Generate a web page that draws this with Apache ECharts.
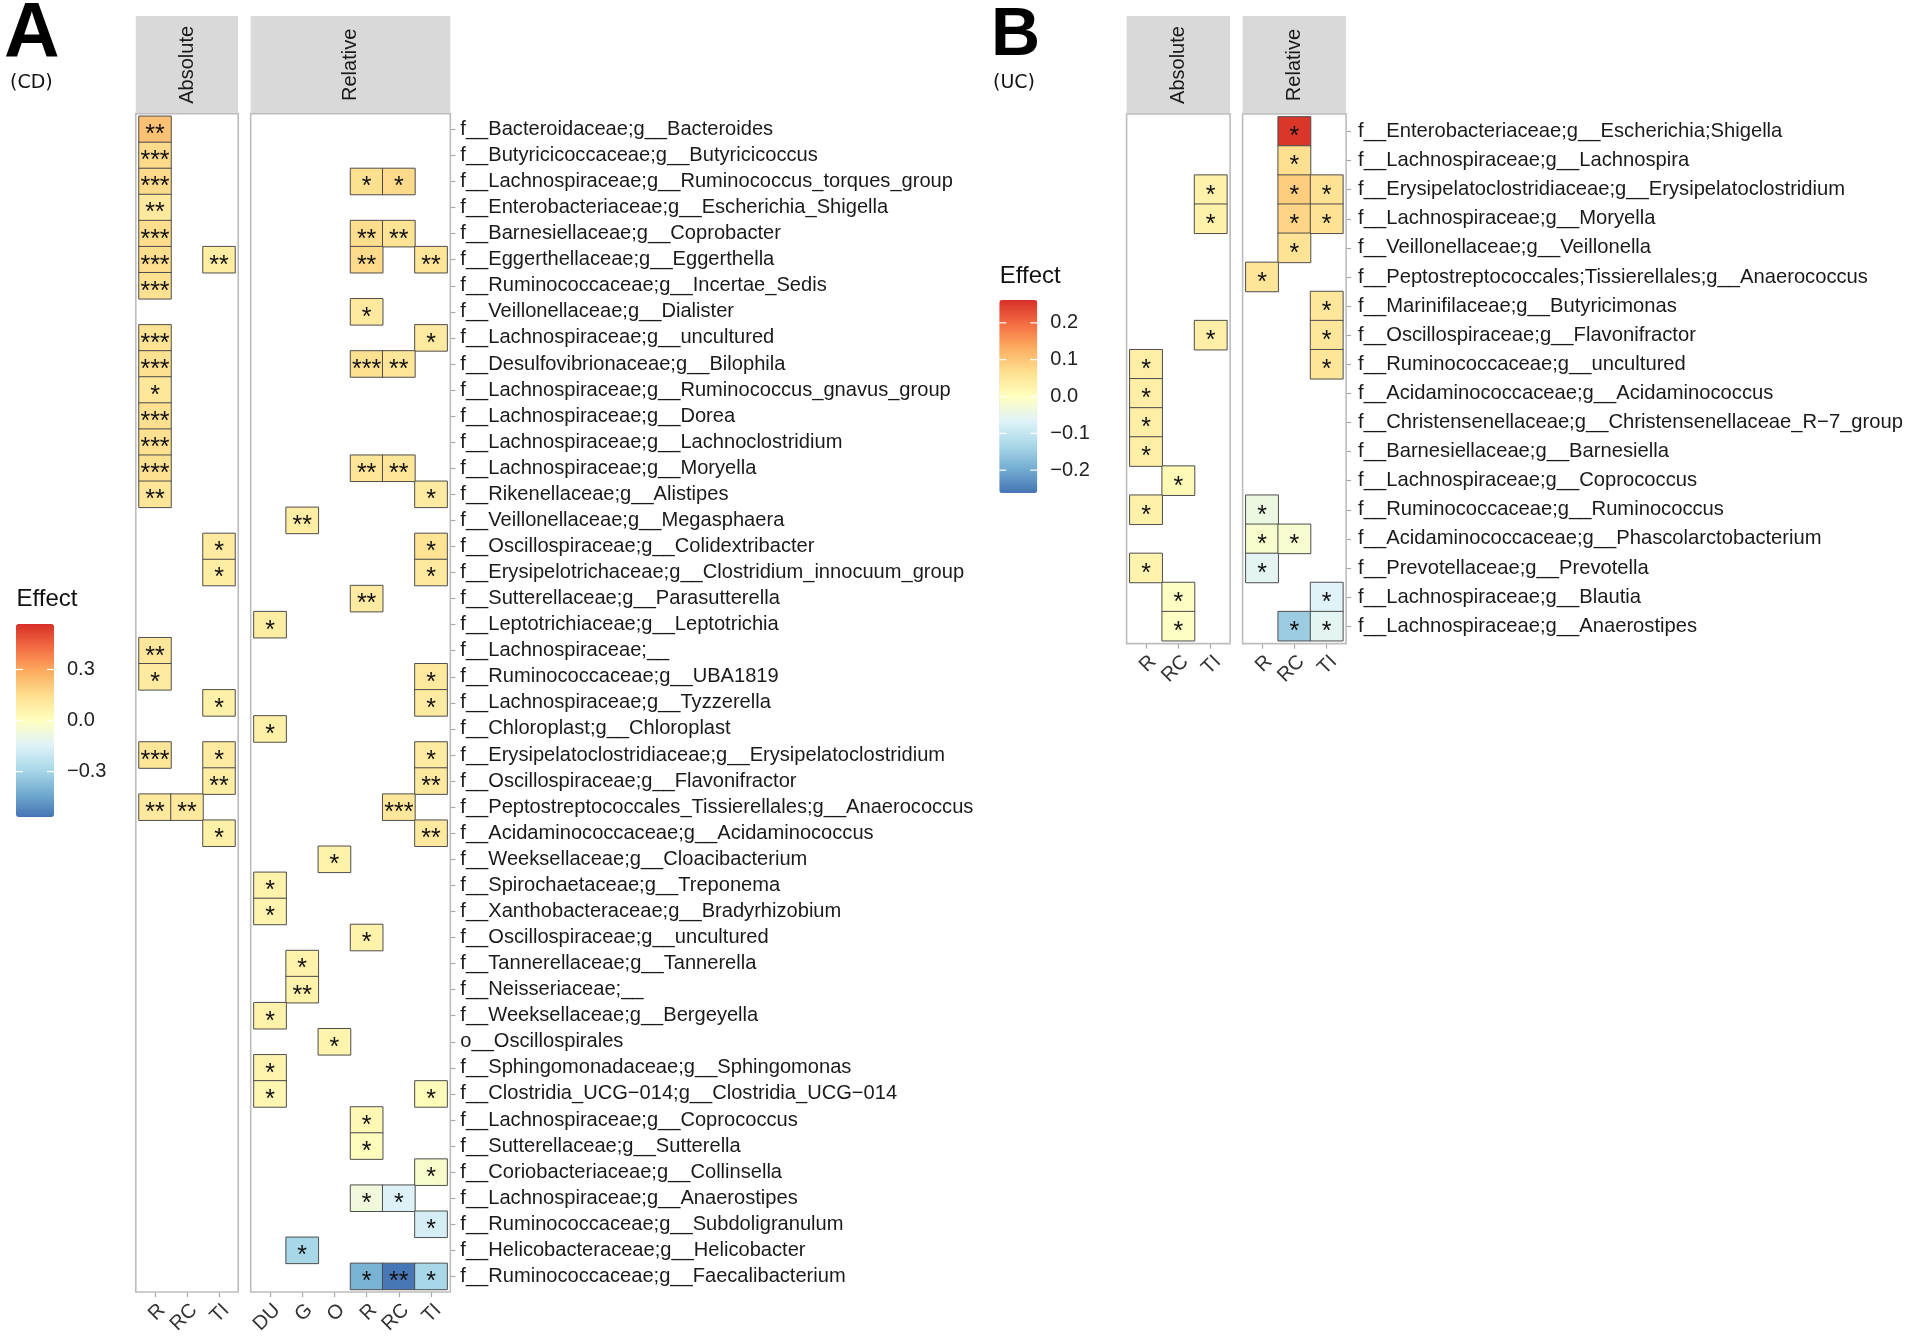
<!DOCTYPE html>
<html>
<head>
<meta charset="utf-8">
<script src="https://cdn.jsdelivr.net/npm/echarts/dist/echarts.min.js"></script>
<style>html,body{margin:0;padding:0;background:#fff}#chart{width:1907px;height:1337px}</style>
</head>
<body>
<div id="chart"></div>
<script>
// ---------------- DATA ----------------
const taxaCD = [
  'f__Bacteroidaceae;g__Bacteroides',
  'f__Butyricicoccaceae;g__Butyricicoccus',
  'f__Lachnospiraceae;g__Ruminococcus_torques_group',
  'f__Enterobacteriaceae;g__Escherichia_Shigella',
  'f__Barnesiellaceae;g__Coprobacter',
  'f__Eggerthellaceae;g__Eggerthella',
  'f__Ruminococcaceae;g__Incertae_Sedis',
  'f__Veillonellaceae;g__Dialister',
  'f__Lachnospiraceae;g__uncultured',
  'f__Desulfovibrionaceae;g__Bilophila',
  'f__Lachnospiraceae;g__Ruminococcus_gnavus_group',
  'f__Lachnospiraceae;g__Dorea',
  'f__Lachnospiraceae;g__Lachnoclostridium',
  'f__Lachnospiraceae;g__Moryella',
  'f__Rikenellaceae;g__Alistipes',
  'f__Veillonellaceae;g__Megasphaera',
  'f__Oscillospiraceae;g__Colidextribacter',
  'f__Erysipelotrichaceae;g__Clostridium_innocuum_group',
  'f__Sutterellaceae;g__Parasutterella',
  'f__Leptotrichiaceae;g__Leptotrichia',
  'f__Lachnospiraceae;__',
  'f__Ruminococcaceae;g__UBA1819',
  'f__Lachnospiraceae;g__Tyzzerella',
  'f__Chloroplast;g__Chloroplast',
  'f__Erysipelatoclostridiaceae;g__Erysipelatoclostridium',
  'f__Oscillospiraceae;g__Flavonifractor',
  'f__Peptostreptococcales_Tissierellales;g__Anaerococcus',
  'f__Acidaminococcaceae;g__Acidaminococcus',
  'f__Weeksellaceae;g__Cloacibacterium',
  'f__Spirochaetaceae;g__Treponema',
  'f__Xanthobacteraceae;g__Bradyrhizobium',
  'f__Oscillospiraceae;g__uncultured',
  'f__Tannerellaceae;g__Tannerella',
  'f__Neisseriaceae;__',
  'f__Weeksellaceae;g__Bergeyella',
  'o__Oscillospirales',
  'f__Sphingomonadaceae;g__Sphingomonas',
  'f__Clostridia_UCG\u2212014;g__Clostridia_UCG\u2212014',
  'f__Lachnospiraceae;g__Coprococcus',
  'f__Sutterellaceae;g__Sutterella',
  'f__Coriobacteriaceae;g__Collinsella',
  'f__Lachnospiraceae;g__Anaerostipes',
  'f__Ruminococcaceae;g__Subdoligranulum',
  'f__Helicobacteraceae;g__Helicobacter',
  'f__Ruminococcaceae;g__Faecalibacterium'
];
const taxaUC = [
  'f__Enterobacteriaceae;g__Escherichia;Shigella',
  'f__Lachnospiraceae;g__Lachnospira',
  'f__Erysipelatoclostridiaceae;g__Erysipelatoclostridium',
  'f__Lachnospiraceae;g__Moryella',
  'f__Veillonellaceae;g__Veillonella',
  'f__Peptostreptococcales;Tissierellales;g__Anaerococcus',
  'f__Marinifilaceae;g__Butyricimonas',
  'f__Oscillospiraceae;g__Flavonifractor',
  'f__Ruminococcaceae;g__uncultured',
  'f__Acidaminococcaceae;g__Acidaminococcus',
  'f__Christensenellaceae;g__Christensenellaceae_R\u22127_group',
  'f__Barnesiellaceae;g__Barnesiella',
  'f__Lachnospiraceae;g__Coprococcus',
  'f__Ruminococcaceae;g__Ruminococcus',
  'f__Acidaminococcaceae;g__Phascolarctobacterium',
  'f__Prevotellaceae;g__Prevotella',
  'f__Lachnospiraceae;g__Blautia',
  'f__Lachnospiraceae;g__Anaerostipes'
];
const colsAbsCD = ['R', 'RC', 'TI'];
const colsRelCD = ['DU', 'G', 'O', 'R', 'RC', 'TI'];
const colsAbsUC = ['R', 'RC', 'TI'];
const colsRelUC = ['R', 'RC', 'TI'];

// [taxon row (0 = top), column, effect, significance]
const cdAbsolute = [
  [0,'R',0.23,'**'],[1,'R',0.16,'***'],[2,'R',0.16,'***'],[3,'R',0.10,'**'],
  [4,'R',0.15,'***'],[5,'R',0.15,'***'],[5,'TI',0.08,'**'],[6,'R',0.14,'***'],
  [8,'R',0.13,'***'],[9,'R',0.14,'***'],[10,'R',0.11,'*'],[11,'R',0.14,'***'],
  [12,'R',0.14,'***'],[13,'R',0.14,'***'],[14,'R',0.12,'**'],[16,'TI',0.09,'*'],
  [17,'TI',0.08,'*'],[20,'R',0.11,'**'],[21,'R',0.09,'*'],[22,'TI',0.07,'*'],
  [24,'R',0.12,'***'],[24,'TI',0.09,'*'],[25,'TI',0.08,'**'],[26,'R',0.10,'**'],
  [26,'RC',0.10,'**'],[27,'TI',0.07,'*']
];
const cdRelative = [
  [2,'R',0.14,'*'],[2,'RC',0.16,'*'],[4,'R',0.15,'**'],[4,'RC',0.13,'**'],
  [5,'R',0.16,'**'],[5,'TI',0.12,'**'],[7,'R',0.10,'*'],[8,'TI',0.09,'*'],
  [9,'R',0.14,'***'],[9,'RC',0.12,'**'],[13,'R',0.12,'**'],[13,'RC',0.12,'**'],
  [14,'TI',0.09,'*'],[15,'G',0.08,'**'],[16,'TI',0.13,'*'],[17,'TI',0.10,'*'],
  [18,'R',0.09,'**'],[19,'DU',0.08,'*'],[21,'TI',0.10,'*'],[22,'TI',0.09,'*'],
  [23,'DU',0.07,'*'],[24,'TI',0.09,'*'],[25,'TI',0.10,'**'],[26,'RC',0.11,'***'],
  [27,'TI',0.10,'**'],[28,'O',0.06,'*'],[29,'DU',0.06,'*'],[30,'DU',0.05,'*'],
  [31,'R',0.06,'*'],[32,'G',0.06,'*'],[33,'G',0.06,'**'],[34,'DU',0.06,'*'],
  [35,'O',0.05,'*'],[36,'DU',0.05,'*'],[37,'DU',0.04,'*'],[37,'TI',0.02,'*'],
  [38,'R',0.03,'*'],[39,'R',0.01,'*'],[40,'TI',-0.03,'*'],[41,'R',-0.07,'*'],
  [41,'RC',-0.15,'*'],[42,'TI',-0.17,'*'],[43,'G',-0.29,'*'],[44,'R',-0.41,'*'],
  [44,'RC',-0.56,'**'],[44,'TI',-0.29,'*']
];
const ucAbsolute = [
  [2,'TI',0.03,'*'],[3,'TI',0.03,'*'],[7,'TI',0.035,'*'],[8,'R',0.035,'*'],
  [9,'R',0.035,'*'],[10,'R',0.035,'*'],[11,'R',0.035,'*'],[12,'RC',0.012,'*'],
  [13,'R',0.03,'*'],[15,'R',0.025,'*'],[16,'RC',-0.005,'*'],[17,'RC',-0.005,'*']
];
const ucRelative = [
  [0,'RC',0.255,'*'],[1,'RC',0.065,'*'],[2,'RC',0.09,'*'],[2,'TI',0.06,'*'],
  [3,'RC',0.08,'*'],[3,'TI',0.06,'*'],[4,'RC',0.06,'*'],[5,'R',0.055,'*'],
  [6,'TI',0.05,'*'],[7,'TI',0.05,'*'],[8,'TI',0.055,'*'],[13,'R',-0.04,'*'],
  [14,'R',-0.015,'*'],[14,'RC',-0.02,'*'],[15,'R',-0.06,'*'],[16,'TI',-0.065,'*'],
  [17,'RC',-0.15,'*'],[17,'TI',-0.06,'*']
];
const limitCD = 0.567;
const limitUC = 0.262;
const legendTicksCD = [0.3, 0.0, -0.3];
const legendTicksUC = [0.2, 0.1, 0.0, -0.1, -0.2];
const palette = ['#4575b4','#74add1','#abd9e9','#e0f3f8','#ffffbf','#fee090','#fdae61','#f46d43','#d73027'];

// ---------------- LAYOUT ----------------
const FONT = '"Liberation Sans", Arial, Helvetica, sans-serif';
const MINUS = '\u2212';
const fmt = v => (v < 0 ? MINUS : '') + Math.abs(v).toFixed(1);

const panels = [
  // panel A (CD)
  {px:135.8, py:113.7, cw:32.0, rh:26.07, cols:colsAbsCD, taxa:taxaCD, data:cdAbsolute, strip:'Absolute', showY:false, fs:20, yfs:20.1, ymargin:10},
  {px:250.7, py:113.7, cw:32.2, rh:26.07, cols:colsRelCD, taxa:taxaCD, data:cdRelative, strip:'Relative', showY:true, fs:20, yfs:20.1, ymargin:10},
  // panel B (UC)
  {px:1126.6, py:114.0, cw:32.35, rh:29.1, cols:colsAbsUC, taxa:taxaUC, data:ucAbsolute, strip:'Absolute', showY:false, fs:20, yfs:20.2, ymargin:12},
  {px:1242.6, py:114.0, cw:32.35, rh:29.1, cols:colsRelUC, taxa:taxaUC, data:ucRelative, strip:'Relative', showY:true, fs:20, yfs:20.2, ymargin:12}
];

const grids = [], xAxes = [], yAxes = [], series = [], graphics = [];
panels.forEach((p, i) => {
  const nC = p.cols.length, nR = p.taxa.length;
  const W = (nC + 0.2) * p.cw, H = (nR + 0.2) * p.rh;
  grids.push({left: p.px + 0.1 * p.cw, top: p.py + 0.1 * p.rh, width: nC * p.cw, height: nR * p.rh});
  xAxes.push({
    type: 'category', gridIndex: i, data: p.cols, position: 'bottom', offset: 0.1 * p.rh,
    axisLine: {show: false}, splitLine: {show: false},
    axisTick: {show: true, alignWithLabel: true, length: 5, lineStyle: {color: '#a8a8a8', width: 1.2}},
    axisLabel: {rotate: 45, align: 'right', verticalAlign: 'top', margin: 8, interval: 0,
      fontSize: p.fs, fontFamily: FONT, color: '#333'}
  });
  yAxes.push({
    type: 'category', gridIndex: i, data: p.taxa, inverse: true, position: 'right', offset: 0.1 * p.cw,
    axisLine: {show: false}, splitLine: {show: false},
    axisTick: {show: p.showY, alignWithLabel: true, length: 5, lineStyle: {color: '#a8a8a8', width: 1.2}},
    axisLabel: {show: p.showY, interval: 0, margin: p.ymargin, fontSize: p.yfs, fontFamily: FONT, color: '#1a1a1a'}
  });
  series.push({
    type: 'heatmap', xAxisIndex: i, yAxisIndex: i,
    data: p.data.map(d => ({value: [d[1], d[0], d[2]], stars: d[3]})),
    itemStyle: {borderColor: '#4d4d4d', borderWidth: 1},
    label: {show: true, formatter: q => q.data.stars, fontSize: 25, fontFamily: FONT, color: '#111', offset: [0, 6]},
    emphasis: {disabled: true}, progressive: 0, animation: false
  });
  // strip
  graphics.push({type: 'rect', silent: true, z: 1, shape: {x: p.px, y: 16, width: W, height: p.py - 16}, style: {fill: '#d9d9d9'}});
  graphics.push({type: 'text', silent: true, z: 2, x: p.px + W / 2, y: (16 + p.py) / 2, rotation: Math.PI / 2,
    style: {text: p.strip, fontSize: 20, fontFamily: FONT, fill: '#1a1a1a', align: 'center', verticalAlign: 'middle'}});
  // panel border
  graphics.push({type: 'rect', silent: true, z: 50, shape: {x: p.px, y: p.py, width: W, height: H},
    style: {fill: 'none', stroke: '#bdbdbd', lineWidth: 1.6}});
});

// legends (colour bars drawn by visualMap; ticks/labels as text)
function legendDecor(x0, top, h, limit, ticks, title, titleY) {
  graphics.push({type: 'text', silent: true, x: x0 + 0.5, y: titleY,
    style: {text: title, fontSize: 24, fontFamily: FONT, fill: '#111', align: 'left', verticalAlign: 'middle'}});
  ticks.forEach(t => {
    const y = top + (limit - t) / (2 * limit) * h;
    graphics.push({type: 'text', silent: true, x: x0 + 51, y: y,
      style: {text: fmt(t), fontSize: 20, fontFamily: FONT, fill: '#222', align: 'left', verticalAlign: 'middle'}});
    graphics.push({type: 'line', silent: true, z: 20, shape: {x1: x0, y1: y, x2: x0 + 7, y2: y}, style: {stroke: '#fff', lineWidth: 1.2}});
    graphics.push({type: 'line', silent: true, z: 20, shape: {x1: x0 + 31, y1: y, x2: x0 + 38, y2: y}, style: {stroke: '#fff', lineWidth: 1.2}});
  });
}
legendDecor(16, 624, 193, limitCD, legendTicksCD, 'Effect', 599.5);
legendDecor(999.3, 300, 193, limitUC, legendTicksUC, 'Effect', 276);

// panel letters
graphics.push({type: 'text', silent: true, x: 4, y: 36, style: {text: 'A', fontSize: 77, fontWeight: 'bold', fontFamily: FONT, fill: '#000', align: 'left', verticalAlign: 'middle'}});
graphics.push({type: 'text', silent: true, x: 10, y: 83, style: {text: '(CD)', fontSize: 19, fontFamily: '"DejaVu Sans", sans-serif', fill: '#111', align: 'left', verticalAlign: 'middle'}});
graphics.push({type: 'text', silent: true, x: 991, y: 36, style: {text: 'B', fontSize: 68, fontWeight: 'bold', fontFamily: FONT, fill: '#000', align: 'left', verticalAlign: 'middle'}});
graphics.push({type: 'text', silent: true, x: 993, y: 83, style: {text: '(UC)', fontSize: 19, fontFamily: '"DejaVu Sans", sans-serif', fill: '#111', align: 'left', verticalAlign: 'middle'}});

const chart = echarts.init(document.getElementById('chart'), null, {renderer: 'canvas'});
chart.setOption({
  backgroundColor: '#ffffff',
  animation: false,
  textStyle: {fontFamily: FONT},
  grid: grids,
  xAxis: xAxes,
  yAxis: yAxes,
  visualMap: [
    {type: 'continuous', seriesIndex: [0, 1], min: -limitCD, max: limitCD, dimension: 2,
     inRange: {color: palette}, calculable: false, hoverLink: false, show: true,
     orient: 'vertical', left: 16, top: 624, itemWidth: 38, itemHeight: 193, padding: 0},
    {type: 'continuous', seriesIndex: [2, 3], min: -limitUC, max: limitUC, dimension: 2,
     inRange: {color: palette}, calculable: false, hoverLink: false, show: true,
     orient: 'vertical', left: 999.3, top: 300, itemWidth: 38, itemHeight: 193, padding: 0}
  ],
  series: series,
  graphic: {elements: graphics}
});
</script>
</body>
</html>
